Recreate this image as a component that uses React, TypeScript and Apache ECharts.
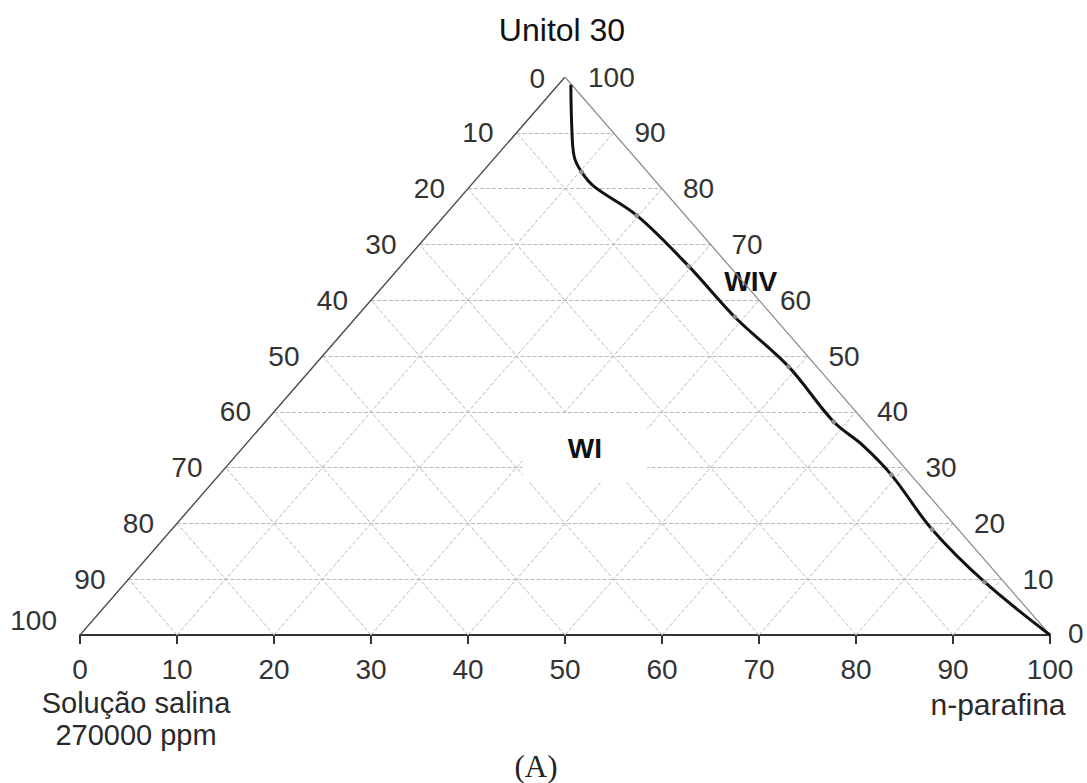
import React, { useEffect, useRef } from "react";
import * as echarts from "echarts";

// Ternary grid levels (%) and edge tick values
const gridLevels = [10, 20, 30, 40, 50, 60, 70, 80, 90];
const edgeTicks = [0, 10, 20, 30, 40, 50, 60, 70, 80, 90, 100];

// Phase boundary: Unitol 30 (%) and n-parafina (%) along the curve
const curveUnitol = [98.6, 91.0, 85.7, 83.0, 80.3, 75.2, 66.1, 57.0, 48.1, 38.2, 34.0, 28.7, 18.9, 9.5, 0];
const curveParafina = [1.3, 5.2, 8.1, 10.2, 12.9, 19.8, 29.7, 39.0, 49.0, 58.6, 63.7, 69.3, 78.4, 88.5, 100];

// Measured points on the boundary
const pointUnitol = [83.0, 75.2, 66.1, 57.0, 48.1, 38.2, 28.7, 18.9, 9.5];
const pointParafina = [10.2, 19.8, 29.7, 39.0, 49.0, 58.6, 69.3, 78.4, 88.5];

// Winsor region labels
const regionNames = ["WI", "WIV"];
const regionUnitol = [33.5, 63.3];
const regionParafina = [35.3, 37.5];

const SANS = "'Liberation Sans', Arial, Helvetica, sans-serif";
const SERIF = "'Liberation Serif', 'Times New Roman', serif";

// ternary (Unitol, n-parafina) -> cartesian (x, y)
const toXY = (u: number, p: number): [number, number] => [p + u / 2, u];

const hidden = { color: "rgba(0,0,0,0)", opacity: 1 };

function buildOption(): any {
  const gridData: any[] = [];
  gridLevels.forEach((k) => {
    // constant Unitol (horizontal)
    gridData.push({ coords: [toXY(k, 0), toXY(k, 100 - k)] });
    // constant n-parafina
    gridData.push({ coords: [toXY(0, k), toXY(100 - k, k)] });
    // constant solução salina
    gridData.push({ coords: [toXY(0, 100 - k), toXY(100 - k, 0)] });
  });

  const edgeData = [
    { coords: [toXY(0, 0), toXY(100, 0)], lineStyle: { color: "#4a4a4a", width: 1.4 } },
    { coords: [toXY(0, 100), toXY(100, 0)], lineStyle: { color: "#8a8580", width: 1.2 } },
  ];

  const curveData = curveUnitol.map((u, i) => toXY(u, curveParafina[i]));
  const pointData = pointUnitol.map((u, i) => toXY(u, pointParafina[i]));

  const labelText = { fontSize: 28, color: "#333", fontFamily: SANS };

  const leftLabels = edgeTicks.map((s) => {
    const item: any = { value: toXY(100 - s, 0), name: String(s) };
    if (s === 0) item.label = { offset: [3, 1] };
    if (s === 100) item.label = { offset: [0, -15] };
    return item;
  });
  const rightLabels = edgeTicks.map((u) => {
    const item: any = { value: toXY(u, 100 - u), name: String(u) };
    if (u === 0) item.label = { offset: [-3, -2] };
    if (u === 100) item.label = { offset: [2, 0] };
    return item;
  });

  const regionData = regionNames.map((n, i) => {
    const item: any = { value: toXY(regionUnitol[i], regionParafina[i]), name: n };
    if (n === "WI") {
      item.label = { backgroundColor: "#fff", padding: [20, 45] };
    }
    return item;
  });

  return {
    animation: false,
    backgroundColor: "#fff",
    grid: { left: 80, right: 37, top: 77, bottom: 148 },
    xAxis: {
      type: "value",
      min: 0,
      max: 100,
      interval: 10,
      splitLine: { show: false },
      axisLine: { show: true, lineStyle: { color: "#333", width: 2 } },
      axisTick: { show: true, length: 9, lineStyle: { color: "#333", width: 2 } },
      axisLabel: { ...labelText, margin: 20, showMinLabel: true, showMaxLabel: true },
    },
    yAxis: { type: "value", min: 0, max: 100, show: false },
    series: [
      {
        type: "lines",
        coordinateSystem: "cartesian2d",
        silent: true,
        z: 1,
        lineStyle: { color: "#b9b9b9", width: 1, type: [4, 2], opacity: 1 },
        data: gridData,
      },
      {
        type: "scatter",
        silent: true,
        z: 3,
        symbolSize: 0,
        itemStyle: hidden,
        label: {
          show: true,
          position: "inside",
          formatter: "{b}",
          fontSize: 28,
          fontWeight: "bold",
          fontFamily: SANS,
          color: "#111",
        },
        data: regionData,
      },
      {
        type: "lines",
        coordinateSystem: "cartesian2d",
        silent: true,
        z: 4,
        lineStyle: { opacity: 1 },
        data: edgeData,
      },
      {
        type: "line",
        silent: true,
        z: 5,
        smooth: 0.35,
        showSymbol: false,
        symbol: "none",
        lineStyle: { color: "#111", width: 3 },
        data: curveData,
      },
      {
        type: "scatter",
        silent: true,
        z: 6,
        symbolSize: 5,
        itemStyle: { color: "#8c8c8c", opacity: 1 },
        data: pointData,
      },
      {
        type: "scatter",
        silent: true,
        z: 7,
        symbolSize: 0,
        itemStyle: hidden,
        label: { show: true, position: "left", distance: 23, formatter: "{b}", ...labelText },
        data: leftLabels,
      },
      {
        type: "scatter",
        silent: true,
        z: 7,
        symbolSize: 0,
        itemStyle: hidden,
        label: { show: true, position: "right", distance: 21, formatter: "{b}", ...labelText },
        data: rightLabels,
      },
    ],
    graphic: [
      {
        type: "text",
        x: 562,
        y: 30,
        style: {
          text: "Unitol 30",
          fontSize: 32,
          fontFamily: SANS,
          fill: "#111",
          align: "center",
          verticalAlign: "middle",
          textAlign: "center",
          textVerticalAlign: "middle",
        },
      },
      {
        type: "text",
        x: 136,
        y: 719,
        style: {
          text: "Solução salina\n270000 ppm",
          fontSize: 29,
          lineHeight: 32.5,
          fontFamily: SANS,
          fill: "#2a2a2a",
          align: "center",
          verticalAlign: "middle",
          textAlign: "center",
          textVerticalAlign: "middle",
        },
      },
      {
        type: "text",
        x: 998,
        y: 704,
        style: {
          text: "n-parafina",
          fontSize: 30,
          fontFamily: SANS,
          fill: "#2a2a2a",
          align: "center",
          verticalAlign: "middle",
          textAlign: "center",
          textVerticalAlign: "middle",
        },
      },
      {
        type: "text",
        x: 536,
        y: 766,
        style: {
          text: "(A)",
          fontSize: 31,
          fontFamily: SERIF,
          fill: "#222",
          align: "center",
          verticalAlign: "middle",
          textAlign: "center",
          textVerticalAlign: "middle",
        },
      },
    ],
  };
}

export default function App() {
  const ref = useRef<HTMLDivElement>(null);
  useEffect(() => {
    if (!ref.current) return;
    const chart = echarts.init(ref.current, null, { renderer: "svg" });
    chart.setOption(buildOption());
    return () => chart.dispose();
  }, []);
  return (
    <div
      ref={ref}
      style={{ position: "fixed", left: 0, top: 0, width: 1087, height: 783, background: "#fff" }}
    />
  );
}
